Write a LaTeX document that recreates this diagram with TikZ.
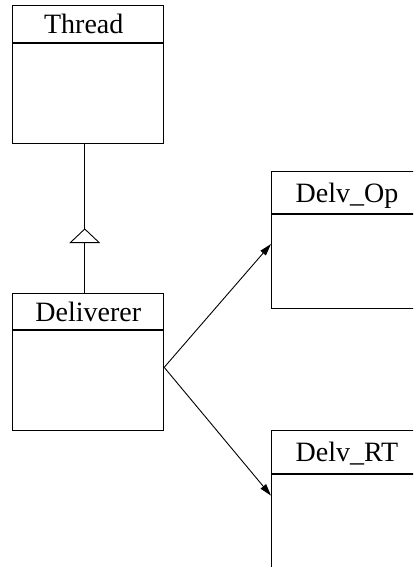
\documentclass[tikz,border=0pt]{standalone}
\usepackage{fontspec}
\setmainfont{Liberation Serif}
\usetikzlibrary{arrows.meta,calc,positioning}
\begin{document}
\begin{tikzpicture}[x=1pt,y=1pt,line width=0.9pt,
  hdr/.style={draw,rectangle,minimum width=151pt,inner sep=0pt,anchor=north west,
    font=\fontsize{28}{30}\selectfont,text height=19pt,text depth=0pt},
  bdy/.style={draw,rectangle,minimum width=151pt,inner sep=0pt,anchor=north},
  assoc/.style={-{Triangle[length=12pt,width=7pt]}}]
\useasboundingbox (0,0) rectangle (413,567);
\clip (0,0) rectangle (413,567);
% Thread
\node[hdr,minimum height=36.7pt] (th) at (12.3,562) {\hspace*{-9pt}Thread};
\node[bdy,minimum height=100.6pt] (tb) at (th.south) {};
% Deliverer
\node[hdr,minimum height=35.7pt] (dh) at (12.3,273.7) {Deliverer};
\node[bdy,minimum height=100pt] (db) at (dh.south) {};
% Delv_Op
\node[hdr,minimum height=42.3pt] (oh) at (271,396) {Delv\_Op};
\node[bdy,minimum height=93.4pt] (ob) at (oh.south) {};
% Delv_RT
\node[hdr,minimum height=43.3pt] (rh) at (271,137) {Delv\_RT};
\node[bdy,minimum height=92.7pt] (rb) at (rh.south) {};
% inheritance
\coordinate (dtop) at ([xshift=-3.5pt]dh.north);
\draw (dtop) -- ([xshift=-3.5pt]tb.south);
\coordinate (tbase) at ($(dtop)+(0,50.6)$);
\draw[fill=white,line join=miter] ($(tbase)+(-14.5,0)$) -- ($(tbase)+(14.5,0)$) -- ($(tbase)+(0,13.7)$) -- cycle;
% associations
\coordinate (src) at ([yshift=13pt]db.east);
\draw[assoc] (src) -- ([yshift=17.3pt]ob.west);
\draw[assoc] (src) -- ([yshift=25.4pt]rb.west);
\end{tikzpicture}
\end{document}
